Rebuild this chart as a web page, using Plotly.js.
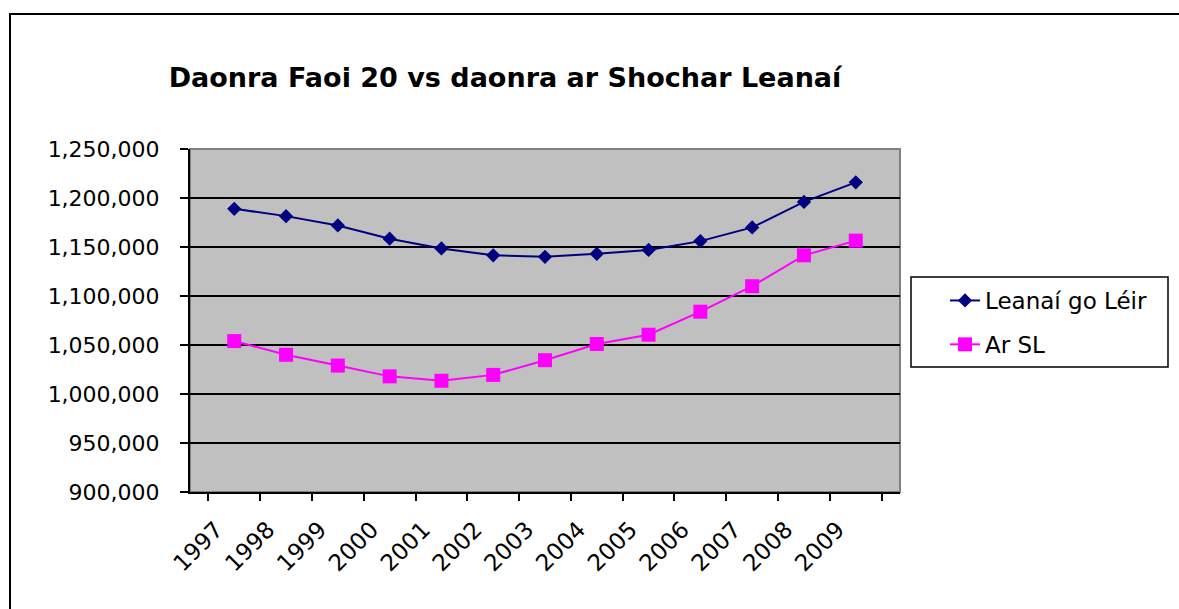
<!DOCTYPE html>
<html>
<head>
<meta charset="utf-8">
<script src="https://cdn.plot.ly/plotly-3.0.1.min.js"></script>
<style>html,body{margin:0;padding:0;background:#fff;}#chart{width:1179px;height:609px;}</style>
</head>
<body>
<div id="chart"></div>
<script>
const years = ["1997","1998","1999","2000","2001","2002","2003","2004","2005","2006","2007","2008","2009"];
const leanaiGoLeir = [1189000,1181500,1172000,1158500,1148500,1141500,1140000,1143000,1147000,1156000,1170000,1196000,1216000];
const arSL = [1054000,1040000,1029000,1018000,1013500,1019500,1034500,1051000,1060500,1084000,1110000,1141500,1156500];
const seriesNames = ["Leanaí go Léir", "Ar SL"];
const chartTitle = "Daonra Faoi 20 vs daonra ar Shochar Leanaí";

const font = "DejaVu Sans, Liberation Sans, Arial, sans-serif";

const traces = [
  {
    x: years, y: leanaiGoLeir, name: seriesNames[0], type: "scatter", mode: "lines+markers",
    legendgroup: "a",
    line: {color: "#000080", width: 2},
    marker: {symbol: "diamond", size: 11, color: "#000080"}
  },
  {
    x: years, y: arSL, name: seriesNames[1], type: "scatter", mode: "lines+markers",
    legendgroup: "b",
    line: {color: "#FF00FF", width: 2},
    marker: {symbol: "square", size: 14, color: "#FF00FF"}
  }
];

const PX0 = 190, PX1 = 900, PY0 = 492, PY1 = 149;
const px = v => (v - PX0) / (PX1 - PX0);
const py = v => (PY0 - v) / (PY0 - PY1);

const layout = {
  width: 1179, height: 609,
  margin: {l: PX0, r: 1179 - PX1, t: PY1, b: 609 - PY0},
  paper_bgcolor: "#ffffff",
  plot_bgcolor: "#C0C0C0",
  font: {family: font, size: 22, color: "#000"},
  showlegend: true,
  title: {
    text: "<b>" + chartTitle + "</b>",
    font: {family: font, size: 27, color: "#000"},
    xref: "paper", x: px(505), xanchor: "center",
    yref: "container", y: 1 - 78/609, yanchor: "middle"
  },
  xaxis: {
    type: "category",
    tickangle: -45,
    showgrid: false,
    showline: true, linecolor: "#000", linewidth: 2,
    ticks: "outside", ticklen: 7, tickcolor: "#000", tickwidth: 2,
    tickson: "boundaries",
    ticklabelshift: -18,
    ticklabelstandoff: 13,
    tickfont: {family: font, size: 23},
    zeroline: false
  },
  yaxis: {
    range: [900000, 1250000],
    dtick: 50000, tick0: 900000,
    tickformat: ",d",
    showgrid: true, gridcolor: "#000", gridwidth: 2,
    showline: true, linecolor: "#000", linewidth: 2,
    ticks: "outside", ticklen: 8, tickcolor: "#000", tickwidth: 2,
    ticklabelstandoff: 16,
    tickfont: {family: font, size: 22},
    zeroline: false
  },
  legend: {
    x: px(945), xanchor: "left",
    y: py(279), yanchor: "top",
    bgcolor: "rgba(0,0,0,0)", borderwidth: 0,
    font: {family: font, size: 23},
    traceorder: "grouped",
    tracegroupgap: 11
  },
  shapes: [
    {type: "rect", xref: "paper", yref: "paper", x0: 0, x1: 1, y0: 0, y1: 1,
     line: {color: "#808080", width: 2}, layer: "between"},
    {type: "rect", xref: "paper", yref: "paper",
     x0: px(911), x1: px(1168), y0: py(367), y1: py(277),
     line: {color: "#000", width: 1.5}, fillcolor: "#fff", layer: "below"},
    {type: "rect", xref: "paper", yref: "paper",
     x0: px(10), x1: px(1185), y0: py(615), y1: py(14),
     line: {color: "#000", width: 2}, layer: "above"}
  ]
};

Plotly.newPlot("chart", traces, layout, {displayModeBar: false, staticPlot: true});
</script>
</body>
</html>
